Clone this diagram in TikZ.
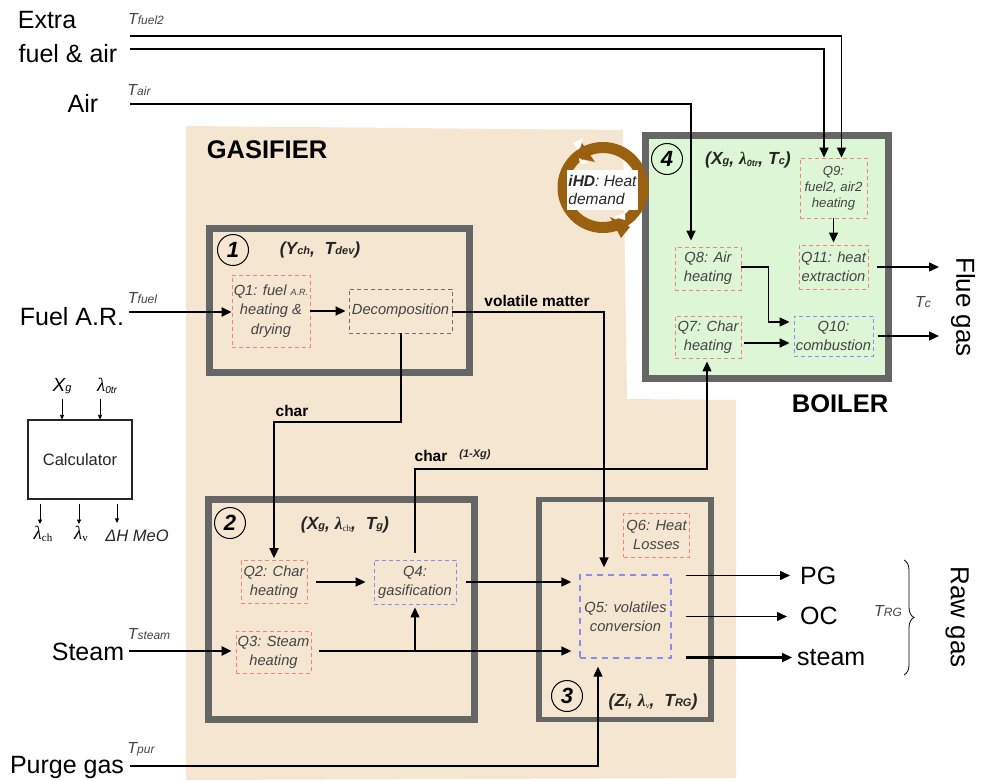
\documentclass[tikz,border=0pt]{standalone}
\usepackage{fontspec}
\setmainfont{Liberation Sans}
\newfontfamily\serifgr{Liberation Serif}
\usetikzlibrary{arrows.meta,decorations.pathreplacing}
\definecolor{beige}{HTML}{F5E6D2}
\definecolor{boilg}{HTML}{DDF6D6}
\definecolor{wallg}{HTML}{666666}
\definecolor{qred}{HTML}{F58080}
\definecolor{qblue}{HTML}{8C8CF0}
\definecolor{qgray}{HTML}{707070}
\definecolor{ringb}{HTML}{99610F}
\definecolor{qtext}{HTML}{444444}
\newcommand{\fs}[1]{\fontsize{#1}{#1}\selectfont}
\newcommand{\tvar}[2]{{\itshape\color{qtext}\fs{16}#1{\fs{12}#2}}}
\tikzset{
  x=1pt,y=-1pt,
  wall/.style={draw=wallg,inner sep=0pt,line width=#1},
  wall/.default=7pt,
  qbox/.style={draw=#1,dashed,dash pattern=on 4pt off 3pt,line width=0.9pt,inner sep=0pt,align=center,font=\fs{14.7}\itshape,text=qtext},
  bigl/.style={inner sep=0pt,font=\fs{25}},
  headl/.style={inner sep=0pt,font=\fs{25.5}\bfseries},
  bl/.style={inner sep=0pt,font=\fs{15.5}\bfseries},
  tup/.style={inner sep=0pt,font=\fs{17.5}\bfseries\itshape,text=black!85},
  tv/.style={inner sep=0pt},
  numc/.style={draw=black,circle,line width=1pt,minimum size=31pt,inner sep=0pt,font=\fs{22}\bfseries\itshape},
  fl/.style={draw=black,line width=#1,-{Triangle[length=10pt,width=9pt]}},
  fl/.default=1.4pt,
  sm/.style={draw=black,line width=0.7pt,-{Triangle[length=4.5pt,width=4pt]}}
}
\begin{document}
\begin{tikzpicture}
\useasboundingbox (0,0) rectangle (982,781);
% backgrounds
\fill[beige] (186,126) -- (623,130) -- (627,399) -- (736,400) -- (736,778) -- (186,780) -- cycle;
% walls
\node[wall,fill=boilg,minimum width=243.5pt,minimum height=243.5pt] (boiler) at (767,257) {};
\node[wall,minimum width=260pt,minimum height=144pt] (w1) at (339,300.5) {};
\node[wall,minimum width=266pt,minimum height=220pt] (w2) at (341.5,609.5) {};
\node[wall=5.5pt,minimum width=172pt,minimum height=220pt] (w3) at (625,609.5) {};
% ring
\node[circle,draw=ringb,line width=11pt,minimum size=80pt,inner sep=0pt] (ring) at (603,187.5) {};
\fill[ringb] (582,143) -- (577,158) -- (595,162) -- cycle;
\fill[ringb] (610,217) -- (630,227) -- (621,238) -- cycle;
\fill[white] (573,143) -- (583,138) -- (578,150) -- cycle;
\fill[white] (579,158) -- (588,163) -- (580,164) -- cycle;
\fill[white] (614,217) -- (625,213) -- (625,220) -- cycle;
\node[fill=white,inner sep=0pt,minimum width=71pt,minimum height=40pt,align=left,font=\fs{15.5}\itshape,text=black!85] (ihd) at (602.5,190) {\textbf{iHD}: Heat\\[3pt]demand};
% titles
\node[headl] (gas) at (267,150) {GASIFIER};
\node[headl] (boil) at (840,404) {BOILER};
% circled numbers
\node[numc] (n1) at (233,250) {1};
\node[numc] (n2) at (230,523) {2};
\node[numc] (n3) at (567,696) {3};
\node[numc] (n4) at (667,159) {4};
% tuples
\node[tup] (t1) at (320,250) {(Y{\fs{11}ch}, \ T{\fs{11}dev})};
\node[tup] (t2) at (345,525) {(X{\fs{11}g}, {\serifgr λ}{\fs{9}\raisebox{-1.5pt}{\normalfont\serifgr ch}}, \ T{\fs{11}g})};
\node[tup] (t3) at (653,702) {(Z{\fs{11}i}, {\serifgr λ}{\fs{8}\raisebox{-1.5pt}{\normalfont\serifgr v}}, \ T{\fs{11}RG})};
\node[tup] (t4) at (748,160) {(X{\fs{11}g}, {\serifgr λ}{\fs{9}\raisebox{-1.5pt}{0tr}}, T{\fs{11}c})};
% process boxes
\node[qbox=qred,minimum width=78pt,minimum height=72pt] (q1) at (271,311) {Q1: fuel {\fs{9}A.R.}\\[4.5pt]heating \&\\[4.5pt]drying};
\node[qbox=qgray,minimum width=103pt,minimum height=44pt] (dec) at (400.5,311) {Decomposition};
\node[qbox=qred,minimum width=66pt,minimum height=43pt] (q2) at (274,582) {Q2: Char\\[4.5pt]heating};
\node[qbox=qblue,minimum width=82pt,minimum height=44pt] (q4) at (415,582) {Q4:\\[4.5pt]gasification};
\node[qbox=qred,minimum width=75pt,minimum height=42pt] (q3) at (273.5,652) {Q3: Steam\\[4.5pt]heating};
\node[qbox=qblue,line width=1.3pt,dash pattern=on 6pt off 5pt,minimum width=91pt,minimum height=83pt] (q5) at (625.5,616.5) {Q5: volatiles\\[4.5pt]conversion};
\node[qbox=qred,minimum width=66pt,minimum height=44pt] (q6) at (656.5,535) {Q6: Heat\\[4.5pt]Losses};
\node[qbox=qred,minimum width=67pt,minimum height=60pt,font=\fs{13.2}\itshape] (q9) at (833.5,188) {Q9:\\[3pt]fuel2, air2\\[3pt]heating};
\node[qbox=qred,minimum width=69pt,minimum height=44pt] (q11) at (833.5,267) {Q11: heat\\[4.5pt]extraction};
\node[qbox=qred,minimum width=66pt,minimum height=43pt] (q8) at (708,268.5) {Q8: Air\\[4.5pt]heating};
\node[qbox=qred,minimum width=66pt,minimum height=42pt] (q7) at (708,337) {Q7: Char\\[4.5pt]heating};
\node[qbox=qblue,minimum width=79pt,minimum height=40pt] (q10) at (833.5,336) {Q10:\\[4.5pt]combustion};
% left labels
\node[bigl] (extra) at (47,20) {Extra};
\node[bigl] (fa) at (68,54) {fuel \& air};
\node[bigl] (air) at (83,103) {Air};
\node[bigl] (fuel) at (72,317) {Fuel A.R.};
\node[bigl] (steam) at (88,652) {Steam};
\node[bigl] (purge) at (67,767) {Purge gas};
\node[tv] (tfuel2) at (146,19) {\tvar{T}{fuel2}};
\node[tv] (tair) at (139,90) {\tvar{T}{air}};
\node[tv] (tfuel) at (142.5,298) {\tvar{T}{fuel}};
\node[tv] (tsteam) at (149,634) {\tvar{T}{steam}};
\node[tv] (tpur) at (141,749) {\tvar{T}{pur}};
\node[tv] (tc) at (923,302) {\tvar{T}{c}};
\node[tv] (trg) at (888,611) {\tvar{T}{RG}};
% free ends of the incoming streams
\coordinate (sf2) at (130,36);
\coordinate (sfa) at (130,49);
\coordinate (sair) at (130,104);
\coordinate (sfuel) at (129,312);
\coordinate (ssteam) at (129,651);
\coordinate (spur) at (130,766);
\coordinate (elbow) at (274,422);
\coordinate (elbowb) at (707,469);
\coordinate (endflue) at (939,267);
\coordinate (endflueb) at (939,336);
\coordinate (endpg) at (790,575.5);
\coordinate (endoc) at (787,616.5);
\coordinate (endst) at (792,657.5);
% right labels
\node[bigl,anchor=west] (pg) at (800,576) {PG};
\node[bigl,anchor=west] (oc) at (800,616) {OC};
\node[bigl,anchor=west] (stm) at (797,658) {steam};
\node[bigl,rotate=-90,font=\fs{26}] (flue) at (963,307) {Flue gas};
\node[bigl,rotate=-90,font=\fs{26}] (raw) at (957,617) {Raw gas};
\draw[line width=0.8pt,decorate,decoration={brace,amplitude=10pt}] (904,560) -- (904,675);
% stream labels
\node[bl] (vm) at (537,301) {volatile matter};
\node[bl] (ch1) at (292,411) {char};
\node[bl] (ch2) at (431,456) {char};
\node[tup,font=\fs{11}\bfseries\itshape] (ch2b) at (475,455) {(1-Xg)};
% connectors
\draw[fl=1.8pt] (sf2) -| ([xshift=8pt]q9.north);
\draw[fl=1.8pt] (sfa) -| ([xshift=-9.5pt]q9.north);
\draw[fl=1.6pt] (sair) -| ([yshift=6pt,xshift=-17pt]q8.north);
\draw[fl=2.3pt] (sfuel) -- (q1.west |- sfuel);
\draw[fl=1.8pt] (q1.east) -- ([xshift=-3pt]dec.west);
\draw[fl=1.6pt] (dec.east |- sfuel) -| ([yshift=7pt,xshift=-21.5pt]q5.north);
\draw[fl=2pt] (dec.south) |- (elbow) -- ([yshift=2pt]q2.north);
\draw[fl=1.8pt] ([xshift=9pt]q2.east) -- ([xshift=-8pt]q4.west);
\draw[fl=1.8pt] ([xshift=10pt]q4.east) -- ([xshift=-8pt,yshift=34.5pt]q5.west);
\draw[fl=2.3pt] (ssteam) -- ([xshift=-4pt,yshift=1pt]q3.west);
\draw[fl=1.4pt] ([xshift=8pt,yshift=1pt]q3.east) -- ([xshift=-8pt,yshift=-34.5pt]q5.west);
\draw[fl=1.4pt] (q4.south |- ssteam) -- ([yshift=-3pt]q4.south);
\draw[fl=1.2pt] ([yshift=7pt]q4.north) |- (elbowb) -- ([xshift=-1pt,yshift=-3pt]q7.south);
\draw[fl=1.2pt] (spur) -| ([yshift=-8pt,xshift=-27.5pt]q5.south);
\draw[fl=1.5pt] ([xshift=14pt,yshift=41pt]q5.east) -- (endpg);
\draw[fl=1.5pt] ([xshift=14pt]q5.east) -- (endoc);
\draw[fl=2.2pt] ([xshift=14pt,yshift=-41pt]q5.east) -- (endst);
\draw[fl=1.4pt] (q9.south) -- ([yshift=2pt]q11.north);
\draw[fl=1.4pt] ([xshift=9pt]q11.east) -- (endflue);
\draw[fl=1.4pt] ([yshift=1.5pt]q8.east) -- ++(27,0) |- ([xshift=-4pt,yshift=14pt]q10.west);
\draw[fl=1.8pt] ([xshift=3pt,yshift=-6pt]q7.east) -- ([xshift=-4pt,yshift=-7pt]q10.west);
\draw[fl=1.4pt] ([xshift=5pt]q10.east) -- (endflueb);
% calculator
\node[draw=black!85,line width=1.1pt,minimum width=104pt,minimum height=79pt,inner sep=0pt,font=\fs{16.5},text=black!85] (calc) at (80,459.5) {Calculator};
\node[tv,font=\fs{19}\itshape] (xg) at (62,386) {X{\fs{11}g}};
\node[tv,font=\fs{19}] (l0) at (107,386) {{\serifgr\itshape λ}{\fs{10}\itshape\raisebox{-1.5pt}{0tr}}};
\node[tv,font=\fs{19}] (lch) at (43,534) {{\serifgr\itshape λ}{\fs{11}\raisebox{-2pt}{\serifgr ch}}};
\node[tv,font=\fs{19}] (lv) at (81,534) {{\serifgr\itshape λ}{\fs{11}\raisebox{-2pt}{\serifgr v}}};
\node[tv,font=\fs{16.5}\itshape,text=black!85] (dh) at (137,536) {ΔH MeO};
\draw[sm] ([yshift=-5pt]xg.south) -- (xg.south |- calc.north);
\draw[sm] ([yshift=-5pt,xshift=-7pt]l0.south) -- ([xshift=20pt]calc.north);
\draw[sm] ([xshift=-40pt]calc.south) ++(0,4) -- ([xshift=-3pt,yshift=2pt]lch.north);
\draw[sm] ([xshift=-1pt]calc.south) ++(0,4) -- ([xshift=-2pt,yshift=2pt]lv.north);
\draw[sm] ([xshift=37pt]calc.south) ++(0,4) -- ([xshift=-20pt,yshift=7pt]dh.north);
\end{tikzpicture}
\end{document}
